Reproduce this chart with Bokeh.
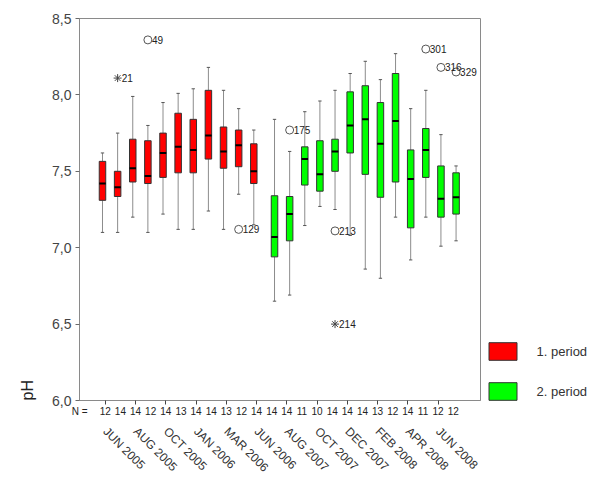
import math
import numpy as np
from bokeh.plotting import figure
from bokeh.models import (FixedTicker, LinearAxis, Range1d, Legend, LegendItem,
                          Title, ColumnDataSource)
from bokeh.core.properties import value
from bokeh.embed import file_html
from bokeh.resources import INLINE

# ---- data ----
categories = list(range(1, 25))
period = [1] * 11 + [2] * 13
n_values = [12, 14, 14, 12, 14, 13, 14, 14, 13, 12, 14,
            14, 14, 11, 10, 14, 14, 14, 13, 12, 14, 11, 12, 12]
whisk_hi = [7.62, 7.75, 7.99, 7.80, 7.95, 8.01, 8.04, 8.18, 8.03, 7.91, 7.77,
            7.84, 7.63, 7.89, 7.96, 8.03, 8.14, 8.22, 8.10, 8.27, 7.91, 8.03, 7.74, 7.535]
q3 = [7.565, 7.50, 7.71, 7.70, 7.75, 7.88, 7.84, 8.03, 7.79, 7.77, 7.68,
      7.34, 7.335, 7.66, 7.70, 7.71, 8.02, 8.06, 7.95, 8.14, 7.64, 7.78, 7.535, 7.49]
median = [7.42, 7.395, 7.52, 7.47, 7.62, 7.66, 7.64, 7.735, 7.63, 7.67, 7.50,
          7.07, 7.22, 7.58, 7.48, 7.63, 7.80, 7.84, 7.68, 7.83, 7.45, 7.64, 7.32, 7.33]
q1 = [7.31, 7.335, 7.43, 7.42, 7.46, 7.49, 7.49, 7.58, 7.52, 7.53, 7.42,
      6.94, 7.045, 7.41, 7.37, 7.50, 7.62, 7.48, 7.33, 7.43, 7.13, 7.46, 7.20, 7.22]
whisk_lo = [7.10, 7.10, 7.20, 7.10, 7.22, 7.12, 7.12, 7.24, 7.12, 7.35, 7.15,
            6.65, 6.69, 7.145, 7.27, 7.25, 7.08, 6.86, 6.80, 7.20, 6.92, 7.20, 7.01, 7.045]

outlier_cat = [4, 10, 13, 16, 22, 23, 24]
outlier_val = [8.36, 7.12, 7.77, 7.11, 8.30, 8.18, 8.15]
outlier_id = ["49", "129", "175", "213", "301", "316", "329"]
extreme_cat = [2, 16]
extreme_val = [8.11, 6.50]
extreme_id = ["21", "214"]

tick_cats = [1, 3, 5, 7, 9, 11, 13, 15, 17, 19, 21, 23]
tick_labels = ["JUN 2005", "AUG 2005", "OCT 2005", "JAN 2006", "MAR 2006", "JUN 2006",
               "AUG 2007", "OCT 2007", "DEC 2007", "FEB 2008", "APR 2008", "JUN 2008"]
n_prefix = "N ="
y_ticks = [6.0, 6.5, 7.0, 7.5, 8.0, 8.5]
y_tick_labels = ["6,0", "6,5", "7,0", "7,5", "8,0", "8,5"]
period_names = ["1. period", "2. period"]
period_colors = ["#FF0000", "#00FF00"]

# ---- figure ----
FONT = "Liberation Sans"
X0, X1 = -0.705, 25.8
p = figure(frame_width=401, frame_height=382,
           x_range=Range1d(X0, X1), y_range=Range1d(6.0, 8.5),
           output_backend="svg", toolbar_location=None, x_axis_location=None,
           min_border_left=79, min_border_top=18, min_border_right=127,
           min_border_bottom=82)
p.grid.grid_line_color = None
p.outline_line_color = "#8a8a8a"
p.background_fill_color = "white"

# y axis
ya = p.yaxis[0]
ya.ticker = FixedTicker(ticks=y_ticks, minor_ticks=[])
ya.major_label_overrides = {t: l for t, l in zip(y_ticks, y_tick_labels)}
ya.axis_line_color = "#8a8a8a"
ya.major_tick_line_color = "#6a6a6a"
ya.major_tick_out = 4
ya.major_tick_in = 0
ya.major_label_standoff = 4
ya.major_label_text_font = FONT
ya.major_label_text_font_size = "14px"
ya.major_label_text_color = "#444444"

p.add_layout(Title(text="pH", align="left", text_font=FONT, text_font_size="16px",
                   text_font_style="normal", text_color="#222222", standoff=28), "left")

# tick-mark axis (closest to frame): tick marks only at labelled months
t_axis = LinearAxis(ticker=FixedTicker(ticks=tick_cats, minor_ticks=[]))
t_axis.major_label_overrides = {c: "" for c in tick_cats}
t_axis.major_label_text_font_size = "1px"
t_axis.major_label_standoff = 0
t_axis.axis_line_color = "#8a8a8a"
t_axis.major_tick_line_color = "#444444"
t_axis.major_tick_line_width = 1
t_axis.major_tick_out = 4
t_axis.major_tick_in = 0
t_axis.minor_tick_line_color = None
p.add_layout(t_axis, "below")

# N axis
cats = np.array(categories, dtype=float)
n_ticks = [X0 + 0.005] + categories
n_axis = LinearAxis(ticker=FixedTicker(ticks=n_ticks, minor_ticks=[]))
n_axis.major_label_overrides = {X0 + 0.005: n_prefix,
                                **{c: str(n) for c, n in zip(categories, n_values)}}
n_axis.axis_line_color = None
n_axis.major_tick_line_color = None
n_axis.major_tick_out = 0
n_axis.major_tick_in = 0
n_axis.minor_tick_line_color = None
n_axis.major_label_standoff = 1
n_axis.major_label_text_font = FONT
n_axis.major_label_text_font_size = "10px"
n_axis.major_label_text_color = "#222222"
p.add_layout(n_axis, "below")

m_axis = LinearAxis(ticker=FixedTicker(ticks=tick_cats, minor_ticks=[]))
m_axis.major_label_overrides = {c: l for c, l in zip(tick_cats, tick_labels)}
m_axis.axis_line_color = None
m_axis.major_tick_line_color = None
m_axis.minor_tick_line_color = None
m_axis.major_tick_out = 0
m_axis.major_tick_in = 0
m_axis.major_label_standoff = 10
m_axis.major_label_orientation = -math.pi / 4
m_axis.major_label_text_font = FONT
m_axis.major_label_text_font_size = "12px"
m_axis.major_label_text_color = "#333333"
p.add_layout(m_axis, "below")

# ---- boxes ----
per = np.array(period)
offset = np.where(per == 1, -0.185, 0.185)
bx = cats + offset
BW = 0.43
CW = 0.11

p.segment(x0=bx, y0=np.array(whisk_lo), x1=bx, y1=np.array(q1), line_color="#8c8c8c", line_width=1)
p.segment(x0=bx, y0=np.array(q3), x1=bx, y1=np.array(whisk_hi), line_color="#8c8c8c", line_width=1)
p.segment(x0=bx - CW, y0=np.array(whisk_lo), x1=bx + CW, y1=np.array(whisk_lo), line_color="#555555", line_width=1)
p.segment(x0=bx - CW, y0=np.array(whisk_hi), x1=bx + CW, y1=np.array(whisk_hi), line_color="#555555", line_width=1)

box_renderers = []
for k in (1, 2):
    m = per == k
    src = ColumnDataSource(dict(x=bx[m], top=np.array(q3)[m], bottom=np.array(q1)[m]))
    r = p.vbar(x="x", width=BW, top="top", bottom="bottom", source=src,
               fill_color=period_colors[k - 1], line_color="#333333", line_width=1)
    box_renderers.append(r)

p.segment(x0=bx - BW / 2, y0=np.array(median), x1=bx + BW / 2, y1=np.array(median),
          line_color="black", line_width=2)

# ---- outliers ----
oc = np.array(outlier_cat)
ox = cats[oc - 1] + offset[oc - 1]
p.scatter(ox, outlier_val, marker="circle", size=8, fill_color="white",
          line_color="#555555", line_width=1)
p.text(ox, outlier_val, text=outlier_id, x_offset=4, text_align="left",
       text_baseline="middle", text_font=value(FONT), text_font_size="10px",
       text_color="#222222")
ec = np.array(extreme_cat)
ex = cats[ec - 1] + offset[ec - 1]
p.scatter(ex, extreme_val, marker="asterisk", size=8, line_color="#444444", line_width=1)
p.text(ex, extreme_val, text=extreme_id, x_offset=4, text_align="left",
       text_baseline="middle", text_font=value(FONT), text_font_size="10px",
       text_color="#222222")

# ---- legend ----
legend = Legend(items=[LegendItem(label=period_names[i], renderers=[box_renderers[i]])
                       for i in range(2)],
                location=(4.5, -2), glyph_width=35, glyph_height=22, spacing=18,
                label_standoff=17, padding=0, margin=0, border_line_color=None,
                background_fill_alpha=0, label_text_font=FONT,
                label_text_font_size="13px", label_text_color="#333333")
p.add_layout(legend, "right")

open("out.html", "w").write(file_html(p, INLINE))
